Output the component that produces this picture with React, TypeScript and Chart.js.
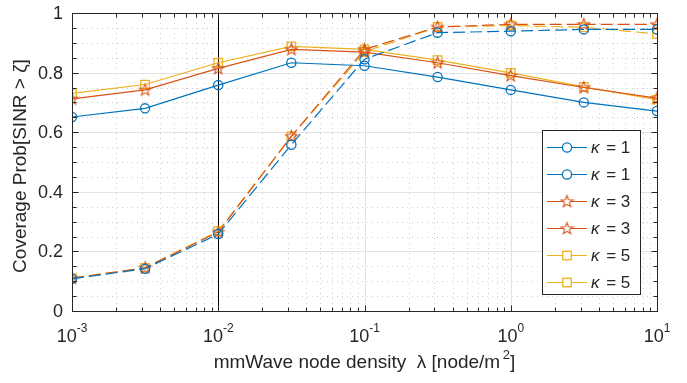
import React, { useEffect, useRef } from 'react';
import { Chart, registerables } from 'chart.js';
Chart.register(...registerables);

const densities = [0.001, 0.00316, 0.01, 0.0316, 0.1, 0.316, 1, 3.16, 10];
const kappa1A = [0.651, 0.68, 0.758, 0.833, 0.823, 0.785, 0.742, 0.7, 0.671];
const kappa1B = [0.108, 0.142, 0.258, 0.558, 0.845, 0.934, 0.939, 0.945, 0.945];
const kappa3A = [0.712, 0.742, 0.814, 0.878, 0.869, 0.833, 0.79, 0.75, 0.714];
const kappa3B = [0.11, 0.145, 0.265, 0.586, 0.878, 0.953, 0.962, 0.962, 0.962];
const kappa5A = [0.73, 0.76, 0.833, 0.888, 0.878, 0.842, 0.799, 0.752, 0.709];
const kappa5B = [0.11, 0.145, 0.268, 0.586, 0.87, 0.953, 0.958, 0.952, 0.93];
const legendKappas = ['1', '1', '3', '3', '5', '5'];
const xTickExponents = ['-3', '-2', '-1', '0', '1'];
const yTickValues = [0, 0.2, 0.4, 0.6, 0.8, 1];
const yTickLabels = ['0', '0.2', '0.4', '0.6', '0.8', '1'];
const markerLine = 0.01;

const BLUE = '#0072BD';
const RED = '#D95319';
const YELLOW = '#EDB120';
const FONT = '"Liberation Sans", Arial, Helvetica, sans-serif';

function makeStar(color: string): HTMLCanvasElement {
  const c = document.createElement('canvas');
  c.width = 15;
  c.height = 15;
  const g = c.getContext('2d')!;
  g.strokeStyle = color;
  g.lineWidth = 1.1;
  g.beginPath();
  const cx = 7.5, cy = 7.8, R = 6.2, r = 2.6;
  for (let i = 0; i < 10; i++) {
    const ang = -Math.PI / 2 + (i * Math.PI) / 5;
    const rad = i % 2 === 0 ? R : r;
    const px = cx + rad * Math.cos(ang);
    const py = cy + rad * Math.sin(ang);
    if (i === 0) g.moveTo(px, py);
    else g.lineTo(px, py);
  }
  g.closePath();
  g.stroke();
  return c;
}

export default function App() {
  const ref = useRef<HTMLCanvasElement | null>(null);
  useEffect(() => {
    const canvas = ref.current!;
    const star = makeStar(RED);
    const pts = (arr: number[]) => densities.map((d, i) => ({ x: d, y: arr[i] }));
    const mk = (arr: number[], color: string, style: any, radius: number, dashed: boolean) => ({
      data: pts(arr),
      borderColor: color,
      backgroundColor: 'rgba(0,0,0,0)',
      borderWidth: 1.2,
      borderDash: dashed ? [12, 5] : [],
      pointStyle: style,
      pointRadius: radius,
      pointBorderWidth: 1.3,
      pointBorderColor: color,
      pointBackgroundColor: 'rgba(0,0,0,0)',
      tension: 0,
      fill: false,
    });
    const series = [
      mk(kappa1A, BLUE, 'circle', 4.6, false),
      mk(kappa1B, BLUE, 'circle', 4.6, true),
      mk(kappa3A, RED, star, 5, false),
      mk(kappa3B, RED, star, 5, true),
      mk(kappa5A, YELLOW, 'rect', 6, false),
      mk(kappa5B, YELLOW, 'rect', 6, true),
    ];

    const deco = {
      id: 'deco',
      beforeDatasetsDraw(chart: any) {
        const { ctx, chartArea } = chart;
        const { left, right, top, bottom } = chartArea;
        const x = chart.scales.x, y = chart.scales.y;
        ctx.save();
        ctx.lineWidth = 1;
        for (let i = 1; i < 20; i++) {
          const py = Math.round(y.getPixelForValue(i * 0.05)) + 0.5;
          if (i % 4 === 0) {
            ctx.setLineDash([]);
            ctx.strokeStyle = '#e2e2e2';
          } else {
            ctx.setLineDash([1, 4]);
            ctx.strokeStyle = '#cdcdcd';
          }
          ctx.beginPath();
          ctx.moveTo(left, py);
          ctx.lineTo(right, py);
          ctx.stroke();
        }
        for (let d = -3; d < 1; d++) {
          for (let k = 1; k < 10; k++) {
            const v = k * Math.pow(10, d);
            if (k === 1 && d === -3) continue;
            const px = Math.round(x.getPixelForValue(v)) + 0.5;
            if (k === 1) {
              ctx.setLineDash([]);
              ctx.strokeStyle = '#e2e2e2';
            } else {
              ctx.setLineDash([1, 4]);
              ctx.strokeStyle = '#cdcdcd';
            }
            ctx.beginPath();
            ctx.moveTo(px, top);
            ctx.lineTo(px, bottom);
            ctx.stroke();
          }
        }
        ctx.setLineDash([]);
        ctx.strokeStyle = '#000';
        const lx = Math.round(x.getPixelForValue(markerLine)) + 0.5;
        ctx.beginPath();
        ctx.moveTo(lx, top);
        ctx.lineTo(lx, bottom);
        ctx.stroke();
        ctx.restore();
      },
      afterDraw(chart: any) {
        const { ctx, chartArea } = chart;
        const { left, right, top, bottom } = chartArea;
        const x = chart.scales.x, y = chart.scales.y;
        ctx.save();
        ctx.setLineDash([]);
        ctx.strokeStyle = '#262626';
        ctx.lineWidth = 1;
        const L = Math.round(left) + 0.5, R = Math.round(right) + 0.5;
        const T = Math.round(top) + 0.5, B = Math.round(bottom) + 0.5;
        ctx.strokeRect(L, T, R - L, B - T);
        ctx.beginPath();
        for (let i = 0; i <= 20; i++) {
          const py = Math.round(y.getPixelForValue(i * 0.05)) + 0.5;
          const len = i % 4 === 0 ? 6 : 4;
          ctx.moveTo(L, py); ctx.lineTo(L + len, py);
          ctx.moveTo(R, py); ctx.lineTo(R - len, py);
        }
        for (let d = -3; d <= 1; d++) {
          for (let k = 1; k < 10; k++) {
            const v = k * Math.pow(10, d);
            if (v > 10.0001) continue;
            const px = Math.round(x.getPixelForValue(v)) + 0.5;
            const len = k === 1 ? 6 : 4;
            ctx.moveTo(px, B); ctx.lineTo(px, B - len);
            ctx.moveTo(px, T); ctx.lineTo(px, T + len);
          }
        }
        ctx.stroke();

        ctx.fillStyle = '#262626';
        ctx.font = `18px ${FONT}`;
        ctx.textAlign = 'right';
        ctx.textBaseline = 'middle';
        yTickValues.forEach((v, i) => {
          ctx.fillText(yTickLabels[i], 63, y.getPixelForValue(v) + 1);
        });
        ctx.textBaseline = 'alphabetic';
        ctx.textAlign = 'left';
        xTickExponents.forEach((e) => {
          const px = x.getPixelForValue(Math.pow(10, Number(e)));
          ctx.font = `18px ${FONT}`;
          const w1 = ctx.measureText('10').width;
          ctx.font = `12px ${FONT}`;
          const w2 = ctx.measureText(e).width;
          const sx = px - (w1 + w2) / 2;
          ctx.font = `18px ${FONT}`;
          ctx.fillText('10', sx, 342);
          ctx.font = `12px ${FONT}`;
          ctx.fillText(e, sx + w1, 332);
        });
        {
          const parts1 = 'mmWave node density  λ [node/m';
          ctx.font = `19px ${FONT}`;
          const w1 = ctx.measureText(parts1).width;
          const sp = ctx.measureText(' ').width;
          ctx.font = `13px ${FONT}`;
          const w2 = ctx.measureText('2').width;
          ctx.font = `19px ${FONT}`;
          const w3 = ctx.measureText(']').width;
          const total = w1 + sp * 0.5 + w2 + w3;
          const cx = (left + right) / 2;
          let sx = cx - total / 2;
          ctx.fillText(parts1, sx, 368);
          sx += w1 + sp * 0.5;
          ctx.font = `13px ${FONT}`;
          ctx.fillText('2', sx, 359);
          sx += w2;
          ctx.font = `19px ${FONT}`;
          ctx.fillText(']', sx, 368);
        }
        ctx.save();
        ctx.translate(21, (top + bottom) / 2 + 4);
        ctx.rotate(-Math.PI / 2);
        ctx.textAlign = 'center';
        ctx.textBaseline = 'middle';
        ctx.font = `19px ${FONT}`;
        ctx.fillText('Coverage Prob[SINR > ζ]', 0, 0);
        ctx.restore();

        const bx = 542.5, by = 130.5, bw = 98, bh = 164;
        ctx.fillStyle = '#fff';
        ctx.fillRect(bx, by, bw, bh);
        ctx.strokeStyle = '#262626';
        ctx.lineWidth = 1;
        ctx.strokeRect(bx, by, bw, bh);
        series.forEach((s: any, i: number) => {
          const cy = 147 + i * 27;
          ctx.strokeStyle = s.borderColor;
          ctx.lineWidth = 1.2;
          ctx.setLineDash([]);
          ctx.beginPath();
          ctx.moveTo(547, cy + 0.5);
          ctx.lineTo(587, cy + 0.5);
          ctx.stroke();
          const mx = 567;
          if (s.pointStyle === 'circle') {
            ctx.lineWidth = 1.3;
            ctx.beginPath();
            ctx.arc(mx, cy + 0.5, 4.6, 0, Math.PI * 2);
            ctx.fillStyle = '#fff';
            ctx.fill();
            ctx.stroke();
          } else if (s.pointStyle === 'rect') {
            ctx.lineWidth = 1.3;
            const h = 6 * Math.SQRT1_2;
            ctx.fillStyle = '#fff';
            ctx.fillRect(mx - h, cy + 0.5 - h, 2 * h, 2 * h);
            ctx.strokeRect(mx - h, cy + 0.5 - h, 2 * h, 2 * h);
          } else {
            ctx.fillStyle = '#fff';
            ctx.fillRect(mx - 3, cy - 2.5, 6, 6);
            ctx.drawImage(star, mx - 7.5, cy + 0.5 - 7.5);
          }
          ctx.fillStyle = '#262626';
          ctx.textAlign = 'left';
          ctx.textBaseline = 'middle';
          ctx.font = `italic 17px ${FONT}`;
          ctx.fillText('κ', 591, cy + 1.5);
          const kw = ctx.measureText('κ').width;
          ctx.font = `17px ${FONT}`;
          ctx.fillText(' = ' + legendKappas[i], 591 + kw + 2, cy + 1.5);
        });
        ctx.restore();
      },
    };

    const chart = new Chart(canvas, {
      type: 'line',
      data: { datasets: series as any },
      options: {
        animation: false,
        responsive: false,
        devicePixelRatio: 1,
        layout: { padding: { left: 72, right: 30, top: 13, bottom: 72 } },
        plugins: { legend: { display: false }, tooltip: { enabled: false } },
        scales: {
          x: { type: 'logarithmic', min: 0.001, max: 10, display: false },
          y: { type: 'linear', min: 0, max: 1, display: false },
        },
      } as any,
      plugins: [deco],
    });
    return () => chart.destroy();
  }, []);
  return (
    <div style={{ position: 'absolute', left: 0, top: 0, width: 687, height: 383, background: '#fff' }}>
      <canvas ref={ref} width={687} height={383} style={{ width: 687, height: 383, display: 'block' }} />
    </div>
  );
}
